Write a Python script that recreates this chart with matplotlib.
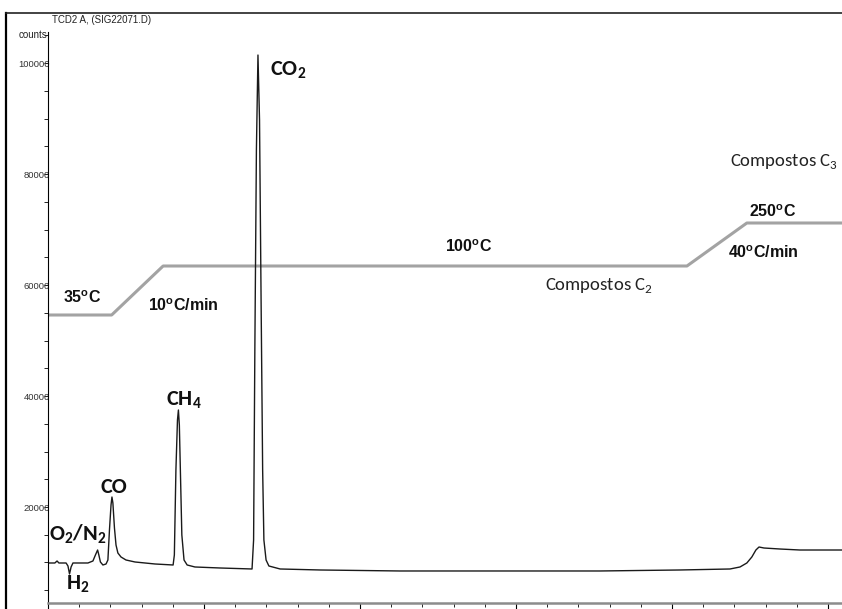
import matplotlib
matplotlib.use('Agg')
import matplotlib.pyplot as plt
from matplotlib.lines import Line2D
from matplotlib.ticker import MultipleLocator

plt.rcParams['mathtext.fontset'] = 'custom'
plt.rcParams['mathtext.rm'] = 'Carlito'
plt.rcParams['mathtext.bf'] = 'Carlito:bold'
plt.rcParams['mathtext.sf'] = 'Liberation Sans:bold'

# TCD signal, time in min, signal in counts
time_min = [0.00, 0.22, 0.29, 0.35, 0.58, 0.64, 0.69, 0.74, 0.80, 1.28,
            1.44, 1.52, 1.59, 1.63, 1.68, 1.76, 1.86, 1.92, 1.97, 2.02,
            2.05, 2.08, 2.13, 2.18, 2.24, 2.34, 2.50, 2.79, 3.43, 4.01,
            4.05, 4.10, 4.15, 4.18, 4.21, 4.25, 4.29, 4.36, 4.46, 4.71,
            5.51, 6.54, 6.59, 6.63, 6.68, 6.73, 6.78, 6.83, 6.88, 6.92,
            6.99, 7.08, 7.44, 8.72, 11.28, 14.49, 17.69, 20.26, 21.86, 22.18,
            22.40, 22.56, 22.69, 22.79, 22.95, 23.46, 24.10, 25.45]
counts = [9910, 9910, 10270, 9910, 9910, 9370, 7930, 9190, 9910, 9910,
          10270, 11350, 12250, 11350, 10090, 9550, 9730, 10450, 15860, 20360,
          21800, 20720, 16220, 13150, 11710, 10990, 10450, 10090, 9730, 9550,
          11350, 26670, 35680, 37480, 34780, 24870, 14960, 10450, 9550, 9190,
          9010, 8830, 14060, 48290, 84330, 101450, 89740, 57300, 26670, 14060,
          10450, 9370, 8830, 8650, 8470, 8470, 8470, 8650, 8830, 9190,
          9910, 10990, 12250, 12790, 12610, 12430, 12250, 12250]

# oven program sketch, drawn on the same axes
oven_x = [0.00, 2.04, 3.69, 20.48, 22.40, 25.45]
oven_y = [54600, 54600, 63430, 63430, 71180, 71180]

# compound labels: text, x, y
peak_labels = [
    (r'CO$_\mathbf{2}$', 7.12, 98750),
    (r'CH$_\mathbf{4}$', 3.78, 39280),
    ('CO', 1.69, 23520),
    (r'O$_\mathbf{2}$/N$_\mathbf{2}$', 0.03, 15140),
    (r'H$_\mathbf{2}$', 0.58, 6040),
]
oven_labels = [
    (r'35$^\mathsf{o}$C', 0.47, 57750),
    (r'10$^\mathsf{o}$C/min', 3.20, 56310),
    (r'100$^\mathsf{o}$C', 12.72, 66850),
    (r'250$^\mathsf{o}$C', 22.47, 73250),
    (r'40$^\mathsf{o}$C/min', 21.79, 65860),
]
group_labels = [
    (r'Compostos C$_\mathrm{2}$', 15.93, 59770),
    (r'Compostos C$_\mathrm{3}$', 21.86, 82170),
]

fig = plt.figure(figsize=(8.42, 6.09), dpi=100)
ax = fig.add_axes([48/842, 6/609, 794/842, 571/609])

ax.plot(oven_x, oven_y, color='#a3a3a3', lw=2.2, solid_capstyle='butt')
ax.plot(time_min, counts, color='#1a1a1a', lw=1.0)

ax.set_xlim(0, 25.45)
ax.set_ylim(2700, 105600)

ax.spines['top'].set_visible(False)
ax.spines['right'].set_visible(False)
ax.spines['left'].set_linewidth(0.8)
ax.spines['bottom'].set_color('#8c8c8c')
ax.spines['bottom'].set_linewidth(1.8)

ax.yaxis.set_major_locator(MultipleLocator(20000))
ax.yaxis.set_minor_locator(MultipleLocator(5000))
ax.xaxis.set_major_locator(MultipleLocator(5))
ax.xaxis.set_minor_locator(MultipleLocator(1))
ax.tick_params(axis='y', which='major', length=3, width=0.6, pad=-4.5,
               labelsize=6.8, labelcolor='#333333')
ax.tick_params(axis='y', which='minor', length=3, width=0.6)
ax.tick_params(axis='x', which='major', length=5, width=0.8, labelsize=6.8)
ax.tick_params(axis='x', which='minor', length=3, width=0.6)
ax.set_yticks([20000, 40000, 60000, 80000, 100000])
ax.set_yticklabels(['20000', '40000', '60000', '80000', '100000'],
                   family='Liberation Sans')

for txt, x, y in peak_labels:
    ax.text(x, y, txt, family='Carlito', fontweight='bold', fontsize=16,
            ha='left', va='center', color='#111111')
for txt, x, y in oven_labels:
    ax.text(x, y, txt, family='Liberation Sans', fontweight='bold',
            fontsize=11.5, ha='left', va='center', color='#111111')
for txt, x, y in group_labels:
    ax.text(x, y, txt, family='Carlito', fontsize=13.5,
            ha='left', va='center', color='#222222')

fig.text(52/842, 1 - 20/609, 'TCD2 A, (SIG22071.D)', family='Liberation Sans',
         fontsize=7, va='center', color='#222222')
fig.text(47/842, 1 - 35/609, 'counts', family='Liberation Sans',
         fontsize=7, ha='right', va='center', color='#222222')

# outer frame (left and top edges)
fig.add_artist(Line2D([6/842, 6/842], [0, 1 - 13/609],
                      transform=fig.transFigure, color='black', lw=1.6))
fig.add_artist(Line2D([6/842, 1], [1 - 13/609, 1 - 13/609],
                      transform=fig.transFigure, color='#222222', lw=1.2))

fig.savefig('out.png', dpi=100)
